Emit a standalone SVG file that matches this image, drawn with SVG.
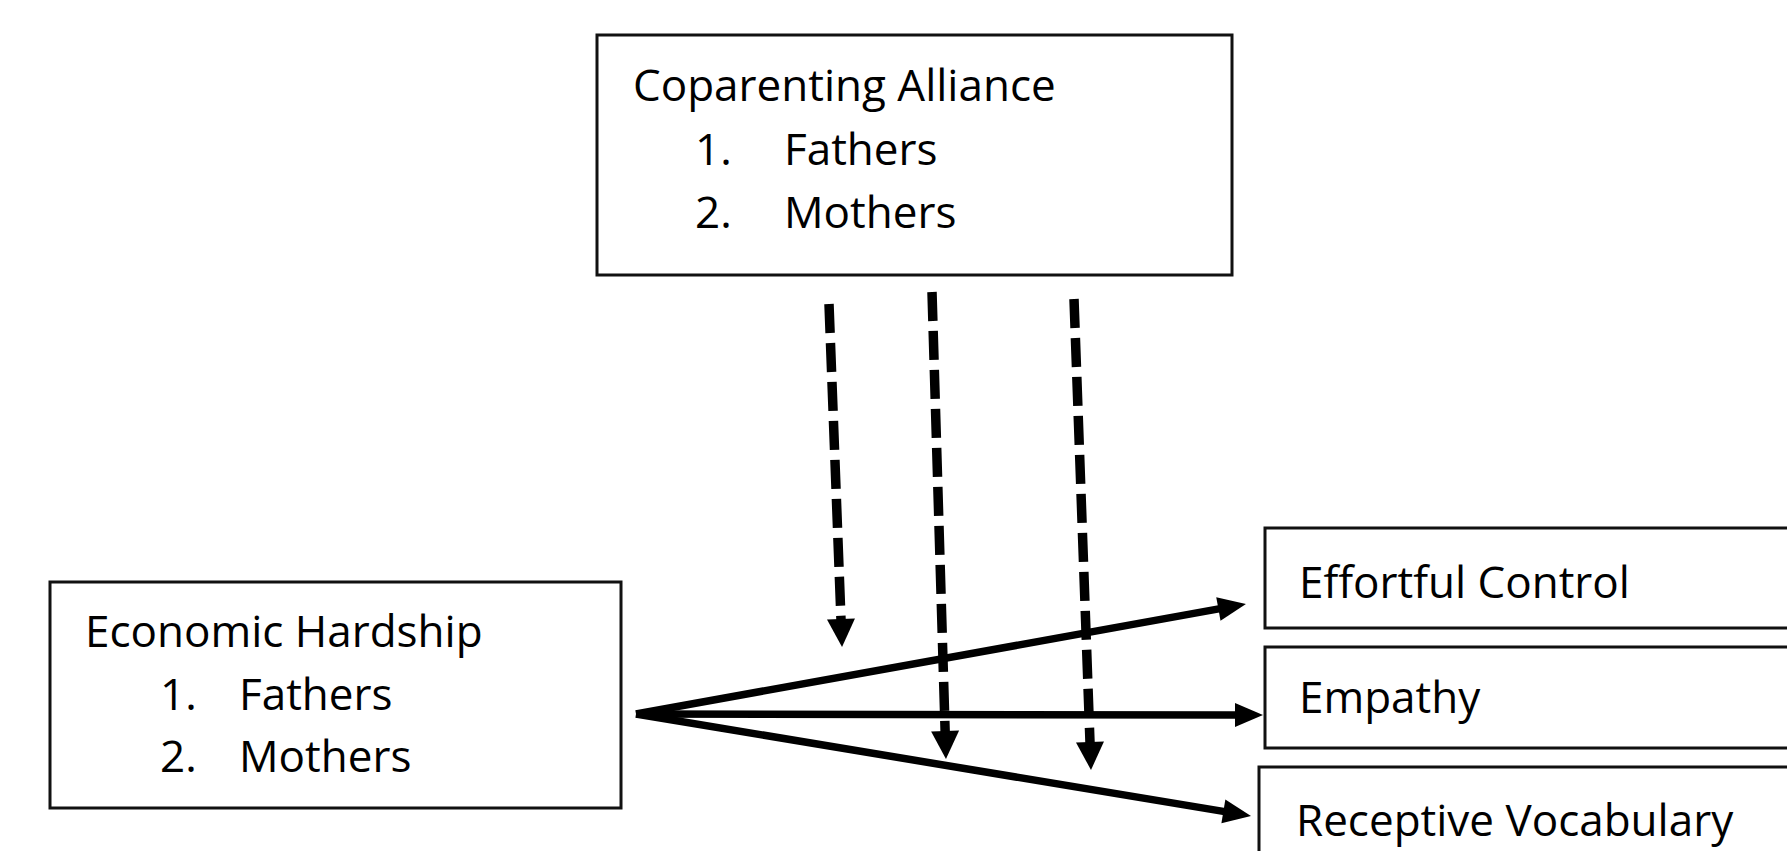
<svg xmlns="http://www.w3.org/2000/svg" width="1787" height="851" viewBox="0 0 1787 851">
<style>
.box{fill:#fff;stroke:#111;stroke-width:3}
.t{font-family:"Open Sans","Liberation Sans",sans-serif;font-size:44px;fill:#000}
.solid{stroke:#000;stroke-width:7.5;fill:none}
.dash{stroke:#000;stroke-width:9.5;fill:none;stroke-dasharray:29 10}
</style>
<defs>
<marker id="hs" markerUnits="userSpaceOnUse" markerWidth="28" markerHeight="24" refX="6" refY="12" orient="auto" overflow="visible">
<path d="M0,0 L28,12 L0,24 z" fill="#000"/>
</marker>
<marker id="hd" markerUnits="userSpaceOnUse" markerWidth="28" markerHeight="28" refX="6" refY="14" orient="auto" overflow="visible">
<path d="M0,0 L28,14 L0,28 z" fill="#000"/>
</marker>
</defs>
<rect width="1787" height="851" fill="#fff"/>
<g id="coparenting">
<rect class="box" x="597" y="35" width="635" height="240"/>
<text class="t" x="633" y="101">Coparenting Alliance</text>
<text class="t" x="695" y="165">1.</text><text class="t" x="784" y="165">Fathers</text>
<text class="t" x="695" y="228">2.</text><text class="t" x="784" y="228">Mothers</text>
</g>
<g id="economic">
<rect class="box" x="50" y="582" width="571" height="226"/>
<text class="t" x="85" y="647">Economic Hardship</text>
<text class="t" x="160" y="710">1.</text><text class="t" x="239" y="710">Fathers</text>
<text class="t" x="160" y="772">2.</text><text class="t" x="239" y="772">Mothers</text>
</g>
<g id="effortful">
<rect class="box" x="1265" y="528" width="540" height="100"/>
<text class="t" x="1299" y="598">Effortful Control</text>
</g>
<g id="empathy">
<rect class="box" x="1265" y="647" width="540" height="101"/>
<text class="t" x="1299" y="713">Empathy</text>
</g>
<g id="receptive">
<rect class="box" x="1259" y="767" width="540" height="100"/>
<text class="t" x="1296" y="836">Receptive Vocabulary</text>
</g>
<g id="connectors">
<line class="solid" x1="636" y1="714" x2="1224.3" y2="607.9" marker-end="url(#hs)"/>
<line class="solid" x1="636" y1="714" x2="1241" y2="715" marker-end="url(#hs)"/>
<line class="solid" x1="636" y1="714" x2="1229.3" y2="812.4" marker-end="url(#hs)"/>
<line class="dash" x1="829" y1="304" x2="841.2" y2="625" marker-end="url(#hd)"/>
<line class="dash" x1="932" y1="292" x2="945.3" y2="737" marker-end="url(#hd)"/>
<line class="dash" x1="1074" y1="299" x2="1090.2" y2="748" marker-end="url(#hd)"/>
</g>
</svg>
